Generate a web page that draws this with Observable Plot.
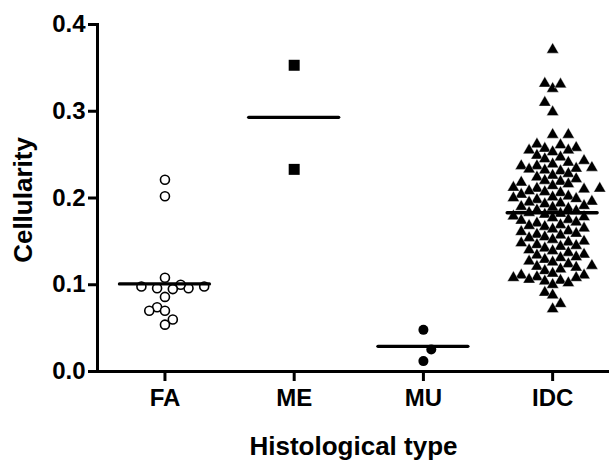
<!DOCTYPE html>
<html><head><meta charset="utf-8">
<script src="https://cdn.jsdelivr.net/npm/d3@7"></script>
<script src="https://cdn.jsdelivr.net/npm/@observablehq/plot@0.6"></script>
<style>body{margin:0;background:#fff}</style>
</head><body><div id="chart"></div>
<script>
const categories = ["FA", "ME", "MU", "IDC"];
const faValues = [0.221, 0.202, 0.108, 0.098, 0.096, 0.096, 0.100, 0.095, 0.098, 0.086, 0.074, 0.070, 0.070, 0.060, 0.054];
const meValues = [0.353, 0.233];
const muValues = [0.048, 0.0254, 0.012];
const idcValues = [
  0.371, 0.332, 0.326, 0.331, 0.310, 0.299, 0.273, 0.273, 0.261, 0.262, 0.258, 0.257, 0.255, 0.255, 0.253,
  0.249, 0.247, 0.245, 0.243, 0.241, 0.239, 0.237, 0.237, 0.235,
  0.234, 0.233, 0.232, 0.231, 0.228, 0.226, 0.224, 0.222, 0.220, 0.219, 0.218, 0.216,
  0.214, 0.212, 0.211, 0.211, 0.210, 0.208, 0.207, 0.206,
  0.204, 0.202, 0.201, 0.200, 0.199, 0.198, 0.196, 0.195,
  0.194, 0.193, 0.191, 0.190, 0.189, 0.188, 0.186, 0.185,
  0.183,
  0.182, 0.181, 0.179, 0.178, 0.177, 0.175,
  0.174, 0.172, 0.171, 0.169, 0.168, 0.167, 0.165,
  0.164, 0.162, 0.161, 0.159, 0.158, 0.157, 0.155,
  0.154, 0.152, 0.150, 0.149, 0.148, 0.146, 0.145,
  0.144, 0.142, 0.140, 0.139, 0.137, 0.135,
  0.134, 0.132, 0.131, 0.129, 0.127, 0.126,
  0.124, 0.122, 0.121, 0.120, 0.118, 0.116,
  0.113, 0.111, 0.111, 0.109, 0.108, 0.108, 0.106, 0.105, 0.104, 0.102, 0.100,
  0.091, 0.088, 0.078, 0.072
];
const medians = [0.101, 0.293, 0.029, 0.183];
const yTicks = [0, 0.1, 0.2, 0.3, 0.4];

const W = 609, H = 461, mT = 24, mB = 90, mL = 97, mR = 0;
const xDomain = [-0.522, 3.44], yDomain = [0, 0.4];
const xPx = (W - mL - mR) / (xDomain[1] - xDomain[0]);
const yPx = (H - mT - mB) / (yDomain[1] - yDomain[0]);
const gap = 7.85, ax = 8;
const aySizes = [12.5, 12.5, 12.5, 10];

function swarm(values, ay) {
  const placed = [];
  const out = new Array(values.length);
  const order = values.map((v, j) => j).sort((a, b) => values[a] - values[b]);
  for (const j of order) {
    const v = values[j];
    const free = k => placed.every(p => (((p.k - k) * gap) / ax) ** 2 + (((p.v - v) * yPx) / ay) ** 2 >= 1);
    let k = 0;
    if (!free(0)) {
      for (let s = 1; s < 50; s++) {
        const l = placed.filter(p => p.k < 0).length, r = placed.filter(p => p.k > 0).length;
        const cands = r <= l ? [s, -s] : [-s, s];
        const c = cands.find(free);
        if (c !== undefined) { k = c; break; }
      }
    }
    placed.push({k, v});
    out[j] = k * gap / xPx;
  }
  return out;
}

const groups = [faValues, meValues, muValues, idcValues];
const points = groups.flatMap((vals, i) => {
  const off = swarm(vals, aySizes[i]);
  return vals.map((v, j) => ({i, value: v, x: i + off[j]}));
});
const medianRows = medians.map((m, i) => ({i, median: m}));
const hw = 45 / xPx;

const font = "Liberation Sans, Arial, Helvetica, sans-serif";
const chart = Plot.plot({
  width: W, height: H,
  marginTop: mT, marginBottom: mB, marginLeft: mL, marginRight: mR,
  style: {fontFamily: font, fontWeight: "bold", background: "white", color: "black"},
  x: {domain: xDomain},
  y: {domain: yDomain},
  marks: [
    Plot.frame({anchor: "left", strokeWidth: 3, strokeLinecap: "square"}),
    Plot.frame({anchor: "bottom", strokeWidth: 3, strokeLinecap: "square"}),
    Plot.axisY({ticks: yTicks, tickFormat: d3.format(".1f"), tickSize: 9, tickPadding: 3, fontSize: 24, fontWeight: "bold", strokeWidth: 3, label: null}),
    Plot.axisX({ticks: [0, 1, 2, 3], tickFormat: i => categories[i], tickSize: 10, tickPadding: 7, fontSize: 24, fontWeight: "bold", strokeWidth: 3, label: null}),
    Plot.dot(points.filter(d => d.i === 0), {x: "x", y: "value", r: 4.5, symbol: "circle", stroke: "black", strokeWidth: 1.6, fill: "white"}),
    Plot.dot(points.filter(d => d.i === 1), {x: "x", y: "value", r: 6.2, symbol: "square", fill: "black", stroke: null}),
    Plot.dot(points.filter(d => d.i === 2), {x: "x", y: "value", r: 5, symbol: "circle", fill: "black", stroke: null}),
    Plot.dot(points.filter(d => d.i === 3), {x: "x", y: "value", r: 4.5, symbol: "triangle", fill: "black", stroke: "white", strokeWidth: 0.4}),
    Plot.ruleY(medianRows, {x1: d => d.i - hw, x2: d => d.i + hw, y: "median", strokeWidth: 3.3, strokeLinecap: "round"}),
    Plot.text(["Histological type"], {frameAnchor: "bottom", textAnchor: "middle", lineAnchor: "middle", dy: 75, fontSize: 26, fontWeight: "bold"}),
    Plot.text(["Cellularity"], {frameAnchor: "left", textAnchor: "middle", lineAnchor: "middle", rotate: -90, dx: -74, dy: 2, fontSize: 26, fontWeight: "bold"})
  ]
});
document.getElementById("chart").appendChild(chart);
</script>
</body></html>
